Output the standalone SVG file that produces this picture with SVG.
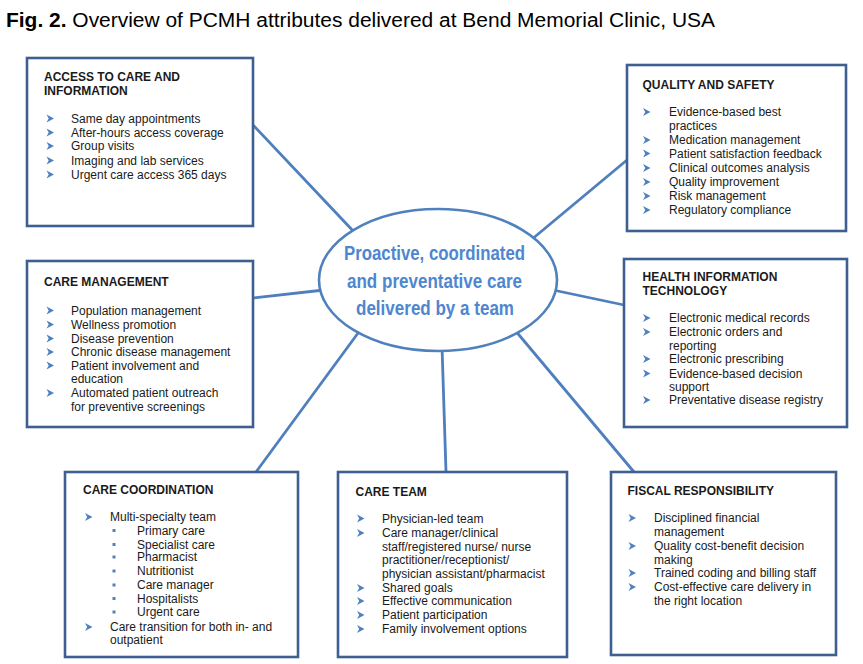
<svg xmlns="http://www.w3.org/2000/svg" xmlns:xlink="http://www.w3.org/1999/xlink" width="863" height="664" viewBox="0 0 863 664">
<defs>
<style>
.box{fill:#fff;stroke:#3e5f8f;stroke-width:2.6}
.conn{stroke:#4f7fbd;stroke-width:2.8;fill:none;stroke-linecap:round}
.hd{font-family:"Liberation Sans",Arial,sans-serif;font-size:12px;font-weight:bold;fill:#1a1a1a}
.tx{font-family:"Liberation Sans",Arial,sans-serif;font-size:12px;fill:#1a1a1a}
.ctr{font-family:"Liberation Sans",Arial,sans-serif;font-size:20px;font-weight:bold;fill:#4f86d0}
.title{font-family:"Liberation Sans",Arial,sans-serif;font-size:20px;fill:#000}
.sq{fill:#4f81bd}
</style>
<polygon id="arr" points="0,-4 7.5,0 0,4 2.2,0" fill="#4f81bd"/>
</defs>

<text class="title" x="6" y="27" textLength="709" lengthAdjust="spacingAndGlyphs"><tspan font-weight="bold">Fig. 2.</tspan> Overview of PCMH attributes delivered at Bend Memorial Clinic, USA</text>

<g id="connectors">
<line class="conn" x1="253" y1="125" x2="356" y2="234"/>
<line class="conn" x1="627" y1="160" x2="531" y2="240"/>
<line class="conn" x1="253" y1="298" x2="324" y2="290"/>
<line class="conn" x1="553" y1="290" x2="624" y2="305"/>
<line class="conn" x1="361" y1="329" x2="256" y2="472"/>
<line class="conn" x1="442" y1="346" x2="446" y2="472"/>
<line class="conn" x1="514" y1="329" x2="634" y2="472"/>
</g>

<g id="center">
<ellipse cx="438" cy="280" rx="119" ry="71" fill="#fff" stroke="#4f81bd" stroke-width="2.6"/>
<text class="ctr" x="434.5" y="260" text-anchor="middle" textLength="181" lengthAdjust="spacingAndGlyphs">Proactive, coordinated</text>
<text class="ctr" x="434.5" y="287.5" text-anchor="middle" textLength="175" lengthAdjust="spacingAndGlyphs">and preventative care</text>
<text class="ctr" x="435" y="315" text-anchor="middle" textLength="158" lengthAdjust="spacingAndGlyphs">delivered by a team</text>
</g>

<g id="access">
<rect class="box" x="27" y="58" width="226" height="168"/>
<text class="hd" x="44" y="81">ACCESS TO CARE AND</text>
<text class="hd" x="44" y="94.5">INFORMATION</text>
<use xlink:href="#arr" x="46.5" y="118.5"/><text class="tx" x="71" y="122.5">Same day appointments</text>
<use xlink:href="#arr" x="46.5" y="132.5"/><text class="tx" x="71" y="136.5">After-hours access coverage</text>
<use xlink:href="#arr" x="46.5" y="146"/><text class="tx" x="71" y="150">Group visits</text>
<use xlink:href="#arr" x="46.5" y="160.5"/><text class="tx" x="71" y="164.5">Imaging and  lab services</text>
<use xlink:href="#arr" x="46.5" y="174.5"/><text class="tx" x="71" y="178.5">Urgent care access 365 days</text>
</g>

<g id="quality">
<rect class="box" x="627" y="65" width="219" height="166"/>
<text class="hd" x="642.5" y="88.5">QUALITY AND SAFETY</text>
<use xlink:href="#arr" x="643" y="112"/><text class="tx" x="669" y="116">Evidence-based best</text>
<text class="tx" x="669" y="129.5">practices</text>
<use xlink:href="#arr" x="643" y="140"/><text class="tx" x="669" y="144">Medication management</text>
<use xlink:href="#arr" x="643" y="153.5"/><text class="tx" x="669" y="157.5">Patient satisfaction feedback</text>
<use xlink:href="#arr" x="643" y="168"/><text class="tx" x="669" y="172">Clinical outcomes analysis</text>
<use xlink:href="#arr" x="643" y="182"/><text class="tx" x="669" y="186">Quality improvement</text>
<use xlink:href="#arr" x="643" y="196"/><text class="tx" x="669" y="200">Risk management</text>
<use xlink:href="#arr" x="643" y="210"/><text class="tx" x="669" y="214">Regulatory compliance</text>
</g>

<g id="care-management">
<rect class="box" x="27" y="261" width="226" height="166"/>
<text class="hd" x="44" y="286">CARE MANAGEMENT</text>
<use xlink:href="#arr" x="46.5" y="310.5"/><text class="tx" x="71" y="314.5">Population management</text>
<use xlink:href="#arr" x="46.5" y="324.5"/><text class="tx" x="71" y="328.5">Wellness promotion</text>
<use xlink:href="#arr" x="46.5" y="338.5"/><text class="tx" x="71" y="342.5">Disease prevention</text>
<use xlink:href="#arr" x="46.5" y="352"/><text class="tx" x="71" y="356">Chronic disease management</text>
<use xlink:href="#arr" x="46.5" y="365.5"/><text class="tx" x="71" y="369.5">Patient involvement and</text>
<text class="tx" x="71" y="383">education</text>
<use xlink:href="#arr" x="46.5" y="393"/><text class="tx" x="71" y="397">Automated patient outreach</text>
<text class="tx" x="71" y="411">for preventive screenings</text>
</g>

<g id="health-it">
<rect class="box" x="624" y="259" width="223" height="168"/>
<text class="hd" x="642.5" y="281">HEALTH INFORMATION</text>
<text class="hd" x="642.5" y="294.5">TECHNOLOGY</text>
<use xlink:href="#arr" x="643" y="318"/><text class="tx" x="669" y="322">Electronic medical records</text>
<use xlink:href="#arr" x="643" y="332"/><text class="tx" x="669" y="336">Electronic orders and</text>
<text class="tx" x="669" y="349.5">reporting</text>
<use xlink:href="#arr" x="643" y="359"/><text class="tx" x="669" y="363">Electronic prescribing</text>
<use xlink:href="#arr" x="643" y="373.5"/><text class="tx" x="669" y="377.5">Evidence-based decision</text>
<text class="tx" x="669" y="390.5">support</text>
<use xlink:href="#arr" x="643" y="400"/><text class="tx" x="669" y="404">Preventative disease registry</text>
</g>

<g id="care-coordination">
<rect class="box" x="65" y="472" width="233" height="185"/>
<text class="hd" x="83" y="493.5">CARE COORDINATION</text>
<use xlink:href="#arr" x="85" y="517"/><text class="tx" x="110" y="521">Multi-specialty team</text>
<rect class="sq" x="112.5" y="529" width="3" height="3"/><text class="tx" x="137" y="534.5">Primary care</text>
<rect class="sq" x="112.5" y="543" width="3" height="3"/><text class="tx" x="137" y="548.5">Specialist care</text>
<rect class="sq" x="112.5" y="555.5" width="3" height="3"/><text class="tx" x="137" y="561">Pharmacist</text>
<rect class="sq" x="112.5" y="569.5" width="3" height="3"/><text class="tx" x="137" y="575">Nutritionist</text>
<rect class="sq" x="112.5" y="583.5" width="3" height="3"/><text class="tx" x="137" y="589">Care manager</text>
<rect class="sq" x="112.5" y="597" width="3" height="3"/><text class="tx" x="137" y="602.5">Hospitalists</text>
<rect class="sq" x="112.5" y="610.5" width="3" height="3"/><text class="tx" x="137" y="616">Urgent care</text>
<use xlink:href="#arr" x="85" y="627"/><text class="tx" x="110" y="631">Care transition for both in- and</text>
<text class="tx" x="110" y="644">outpatient</text>
</g>

<g id="care-team">
<rect class="box" x="338" y="472" width="229" height="185"/>
<text class="hd" x="355.5" y="495.5">CARE TEAM</text>
<use xlink:href="#arr" x="357" y="518.5"/><text class="tx" x="382" y="522.5">Physician-led team</text>
<use xlink:href="#arr" x="357" y="533"/><text class="tx" x="382" y="537">Care manager/clinical</text>
<text class="tx" x="382" y="551">staff/registered nurse/ nurse</text>
<text class="tx" x="382" y="564">practitioner/receptionist/</text>
<text class="tx" x="382" y="578">physician assistant/pharmacist</text>
<use xlink:href="#arr" x="357" y="588"/><text class="tx" x="382" y="592">Shared goals</text>
<use xlink:href="#arr" x="357" y="601"/><text class="tx" x="382" y="605">Effective communication</text>
<use xlink:href="#arr" x="357" y="615"/><text class="tx" x="382" y="619">Patient participation</text>
<use xlink:href="#arr" x="357" y="629"/><text class="tx" x="382" y="633">Family involvement options</text>
</g>

<g id="fiscal">
<rect class="box" x="611" y="472" width="225" height="183"/>
<text class="hd" x="627.5" y="494.5">FISCAL RESPONSIBILITY</text>
<use xlink:href="#arr" x="628.5" y="518"/><text class="tx" x="654" y="522">Disciplined financial</text>
<text class="tx" x="654" y="536">management</text>
<use xlink:href="#arr" x="628.5" y="546"/><text class="tx" x="654" y="550">Quality cost-benefit decision</text>
<text class="tx" x="654" y="563.5">making</text>
<use xlink:href="#arr" x="628.5" y="573"/><text class="tx" x="654" y="577">Trained coding and billing staff</text>
<use xlink:href="#arr" x="628.5" y="587"/><text class="tx" x="654" y="591">Cost-effective care delivery in</text>
<text class="tx" x="654" y="604.5">the right location</text>
</g>
</svg>
